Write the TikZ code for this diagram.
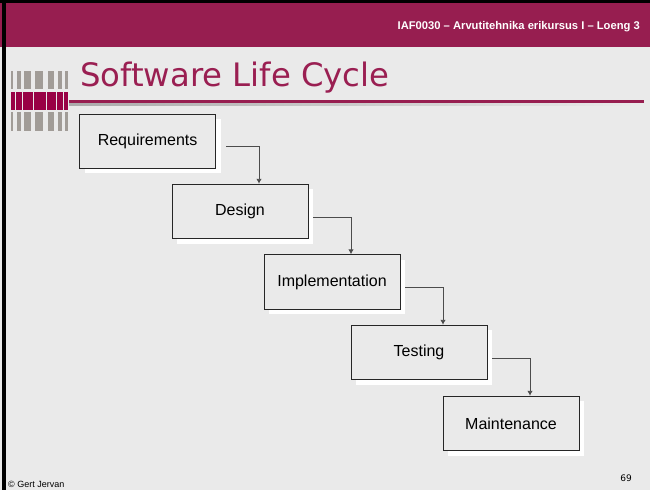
\documentclass[tikz,border=0pt]{standalone}
\usepackage{fontspec}
\setmainfont{Liberation Sans}
\newfontfamily\titlefont{DejaVu Sans}
\usetikzlibrary{arrows.meta,shadows}
\definecolor{slidebg}{HTML}{EAEAEA}
\definecolor{barmaroon}{HTML}{971E50}
\definecolor{titlemaroon}{HTML}{9A1F52}
\definecolor{logomaroon}{HTML}{990045}
\definecolor{logogray}{HTML}{A19C97}
\definecolor{rulegray}{HTML}{ABABAB}
\tikzset{
  stepbox/.style={draw=black!85, line width=0.9pt, fill=slidebg,
    minimum width=136pt, minimum height=54.5pt, inner sep=0pt,
    font=\fontsize{16}{19}\selectfont,
    drop shadow={shadow xshift=5pt, shadow yshift=-5pt, fill=white, opacity=1}},
  conn/.style={draw=black!70, line width=0.9pt,
    -{Latex[length=5pt,width=5.5pt]}},
}
\begin{document}
\begin{tikzpicture}[x=1pt,y=-1pt]
  % page and frame
  \useasboundingbox (0,0) rectangle (650,490);
  \fill[slidebg] (0,0) rectangle (650,490);
  \fill[barmaroon] (0,0) rectangle (650,47);
  \fill[black] (0,0) rectangle (650,3);
  \fill[black] (1.5,0) rectangle (5.5,490);

  % header line
  \node[anchor=base east, text=white, inner sep=0pt,
        font=\fontsize{11.2}{13}\selectfont\bfseries] (hdr) at (640,29)
        {IAF0030 – Arvutitehnika erikursus I – Loeng 3};

  % logo stripes
  \foreach \a/\b in {11/12.7,16.7/20.7,24/30.7,35.3/43.3,48/54,58/62,65.3/67.7}{
    \fill[logogray] (\a,71) rectangle (\b,89);
    \fill[logogray] (\a,112) rectangle (\b,131);
  }
  \foreach \a/\b in {11/14.5,15.5/22,23/33,34/45.5,46.5/55.5,56.5/63,64/68}{
    \fill[logomaroon] (\a,92) rectangle (\b,110);
  }

  % title and its rule
  \node[anchor=base west, text=titlemaroon, inner sep=0pt,
        font=\titlefont\fontsize{32.3}{38}\selectfont] (ttl) at (80,86)
        {Software Life Cycle};
  \shade[left color=rulegray, right color=slidebg] (69,102.5) rectangle (644,105.5);
  \fill[barmaroon] (69,100) rectangle (644,102.7);

  % waterfall steps
  \node[stepbox] (req) at (147.6,141.2) {Requirements};
  \node[stepbox] (des) at (240,211.5) {Design};
  \node[stepbox] (imp) at (332,282) {Implementation};
  \node[stepbox] (tst) at (419,352.5) {Testing};
  \node[stepbox] (mnt) at (511,423.5) {Maintenance};

  % connectors
  \draw[conn] ([shift={(10,5.5)}]req.east) -| ([xshift=19pt]des.north);
  \draw[conn] ([shift={(5,5.5)}]des.east) -| ([xshift=19pt]imp.north);
  \draw[conn] ([shift={(5,5.3)}]imp.east) -| ([xshift=24pt]tst.north);
  \draw[conn] ([shift={(5,5.5)}]tst.east) -| ([xshift=19pt]mnt.north);

  % footer
  \node[anchor=base west, inner sep=0pt, font=\fontsize{9}{11}\selectfont]
        (cpy) at (8,487) {© Gert Jervan};
  \node[anchor=base east, inner sep=0pt, font=\titlefont\fontsize{9}{11}\selectfont]
        (pgn) at (632,481) {69};
\end{tikzpicture}
\end{document}
